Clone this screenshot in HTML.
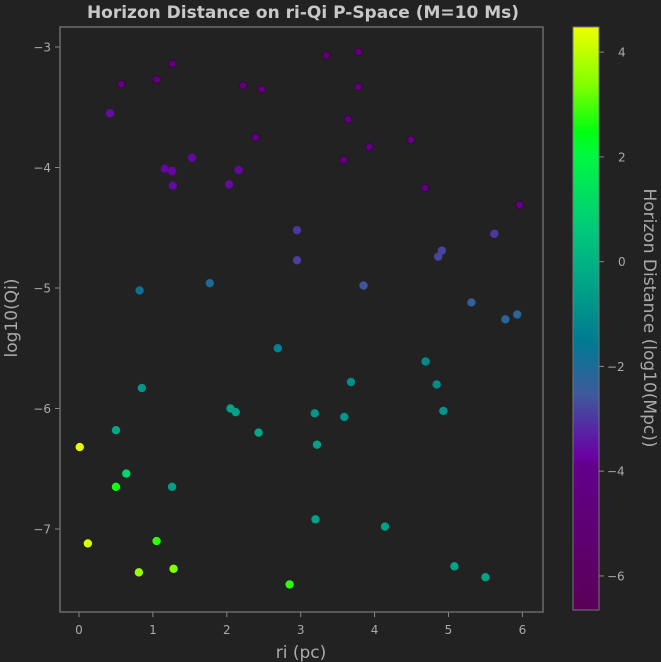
<!DOCTYPE html>
<html><head><meta charset="utf-8">
<style>
html,body{margin:0;padding:0;background:#222222;}
svg{display:block;font-family:"DejaVu Sans","Liberation Sans",sans-serif;}
</style></head>
<body>
<svg id="chart" width="661" height="662" xmlns="http://www.w3.org/2000/svg">
<defs>
<linearGradient id="cmap" x1="0" y1="1" x2="0" y2="0">
<stop offset="0" stop-color="#5a0058"/>
<stop offset="0.25" stop-color="#62008a"/>
<stop offset="0.26" stop-color="#6a00a0"/>
<stop offset="0.30" stop-color="#5a1ea4"/>
<stop offset="0.37" stop-color="#3d5a9c"/>
<stop offset="0.46" stop-color="#007a92"/>
<stop offset="0.55" stop-color="#00a088"/>
<stop offset="0.65" stop-color="#00c87c"/>
<stop offset="0.78" stop-color="#00f840"/>
<stop offset="0.82" stop-color="#00ff10"/>
<stop offset="0.90" stop-color="#80ff00"/>
<stop offset="1" stop-color="#eeff00"/>
</linearGradient>
</defs>
<text x="303" y="18" text-anchor="middle" font-size="17" font-weight="bold" fill="#c8c8c8">Horizon Distance on ri-Qi P-Space (M=10 Ms)</text>
<g id="plot"></g>
<g id="axes"></g>
<rect x="60" y="27" width="483" height="585" fill="none" stroke="#777" stroke-width="1.3"/>
<rect x="573" y="27" width="26" height="583" fill="url(#cmap)" stroke="#777" stroke-width="1"/>
<g id="cbaxis"></g>
<text x="301" y="658" text-anchor="middle" font-size="17" fill="#aaa">ri (pc)</text>
<text transform="translate(17,318) rotate(-90)" text-anchor="middle" font-size="17" fill="#aaa">log10(Qi)</text>
<text transform="translate(644,318) rotate(90)" text-anchor="middle" font-size="17" fill="#aaa">Horizon Distance (log10(Mpc))</text>
</svg>
<script>
const riValues=[0.57,1.05,1.26,0.42,1.16,1.26,1.27,1.53,2.03,2.16,2.22,2.47,2.39,3.35,3.78,3.78,3.64,3.58,3.93,4.49,4.68,5.96,2.95,2.95,5.62,4.91,4.86,3.85,5.31,5.77,5.93,0.82,1.77,2.69,4.69,0.85,3.68,4.84,2.05,2.12,3.19,3.59,4.93,0.5,2.43,3.22,0.01,0.64,0.5,1.26,3.2,4.14,0.12,1.05,0.81,1.28,2.85,5.08,5.5];
const qiValues=[-3.31,-3.27,-3.14,-3.55,-4.01,-4.03,-4.15,-3.92,-4.14,-4.02,-3.32,-3.35,-3.75,-3.07,-3.04,-3.33,-3.6,-3.94,-3.83,-3.77,-4.17,-4.31,-4.52,-4.77,-4.55,-4.69,-4.74,-4.98,-5.12,-5.26,-5.22,-5.02,-4.96,-5.5,-5.61,-5.83,-5.78,-5.8,-6.0,-6.03,-6.04,-6.07,-6.02,-6.18,-6.2,-6.3,-6.32,-6.54,-6.65,-6.65,-6.92,-6.98,-7.12,-7.1,-7.36,-7.33,-7.46,-7.31,-7.4];
const horizonValues=[-4.6,-4.8,-4.9,-3.6,-3.7,-3.7,-3.6,-3.7,-3.6,-3.7,-4.8,-4.8,-4.5,-5.2,-5.2,-4.9,-4.8,-4.6,-4.6,-4.6,-4.3,-4.2,-3.0,-2.9,-3.0,-2.8,-2.8,-2.6,-2.4,-2.2,-2.2,-1.8,-2,-1.3,-1.1,-0.8,-1,-1,-0.5,-0.5,-0.8,-0.8,-0.8,-0.3,-0.3,-0.5,4.4,1,2.6,-0.6,-0.5,-0.5,4.3,2.8,3.6,3.4,2.8,-0.4,-0.4];
const xTicks=[0,1,2,3,4,5,6];
const yTicks=[-3,-4,-5,-6,-7];
const cTicks=[4,2,0,-2,-4,-6];

const NS="http://www.w3.org/2000/svg";
const xs=v=>79+v*73.9;
const ys=v=>47+(-3-v)*120.5;
const cMin=-6.65,cMax=4.48;
const cs=v=>610-(v-cMin)/(cMax-cMin)*583;
const stops=[[0,[90,0,88]],[0.25,[98,0,138]],[0.26,[106,0,160]],[0.30,[90,30,164]],[0.37,[61,90,156]],[0.46,[0,122,146]],[0.55,[0,160,136]],[0.65,[0,200,124]],[0.78,[0,248,64]],[0.82,[0,255,16]],[0.90,[128,255,0]],[1,[238,255,0]]];
function cmap(v){let t=(v-cMin)/(cMax-cMin);t=Math.max(0,Math.min(1,t));
for(let i=1;i<stops.length;i++){if(t<=stops[i][0]){const a=stops[i-1],b=stops[i];const f=(t-a[0])/(b[0]-a[0]);
return 'rgb('+a[1].map((c,k)=>Math.round(c+(b[1][k]-c)*f)).join(',')+')';}}return 'rgb(238,255,0)';}
function mk(tag,attrs,parent){const e=document.createElementNS(NS,tag);for(const k in attrs)e.setAttribute(k,attrs[k]);parent.appendChild(e);return e;}
const plot=document.getElementById('plot'),axes=document.getElementById('axes'),cb=document.getElementById('cbaxis');
for(let i=0;i<riValues.length;i++){
const c=cmap(horizonValues[i]);
const p=mk('circle',{cx:xs(riValues[i]),cy:ys(qiValues[i]),r:3.8,fill:c,stroke:horizonValues[i]<-3.9?'#3a0048':c,'stroke-width':0.8},plot);


}
xTicks.forEach(t=>{
const l=mk('line',{x1:xs(t),x2:xs(t),y1:612,y2:617,stroke:'#888'},axes);


const tx=mk('text',{x:xs(t),y:634,'text-anchor':'middle','font-size':12,fill:'#aaa'},axes);tx.textContent=t;


});
yTicks.forEach(t=>{
const l=mk('line',{x1:55,x2:60,y1:ys(t),y2:ys(t),stroke:'#888'},axes);


const tx=mk('text',{x:51,y:ys(t)+4.5,'text-anchor':'end','font-size':12,fill:'#aaa'},axes);tx.textContent='\u2212'+Math.abs(t);


});
cTicks.forEach(t=>{
const l=mk('line',{x1:599,x2:604,y1:cs(t),y2:cs(t),stroke:'#888'},cb);


const tx=mk('text',{x:t<0?607:618,y:cs(t)+4.5,'font-size':12,fill:'#aaa'},cb);tx.textContent=(t<0?'\u2212':'')+Math.abs(t);


});
</script>
</body></html>
